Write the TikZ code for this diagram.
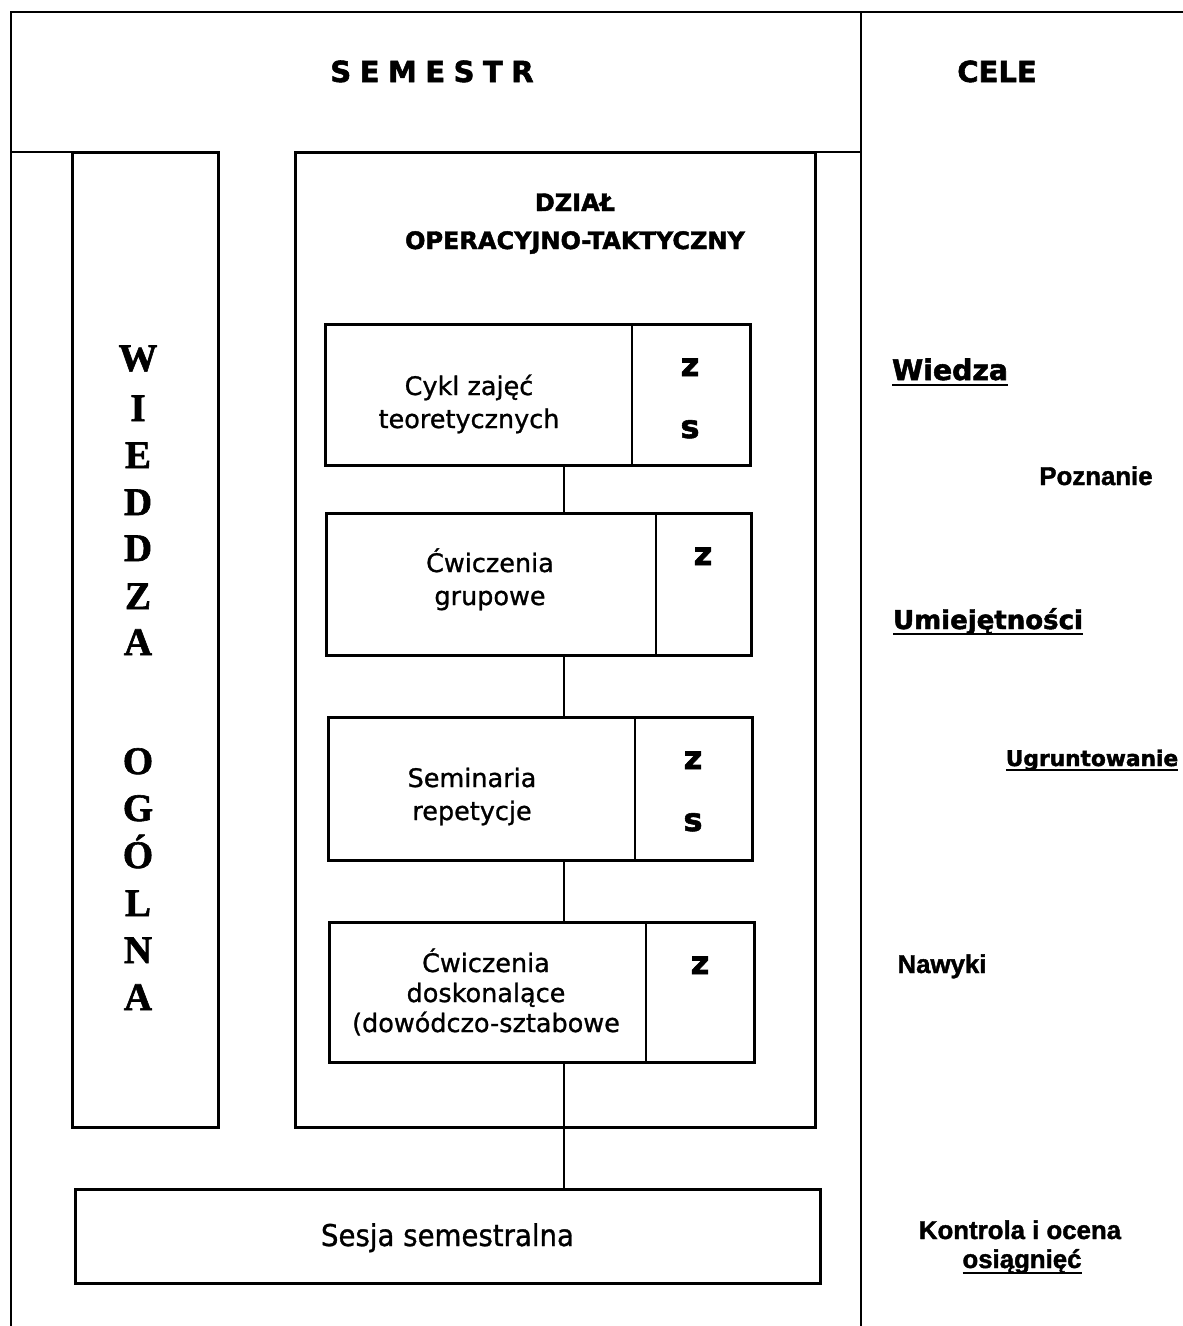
\documentclass[tikz,border=0pt]{standalone}
\usepackage{fontspec}
\setmainfont{DejaVu Sans}
\newfontfamily\boxfont{DejaVu Sans}[UprightFeatures={FakeBold=1}]
\newfontfamily\sesfont{DejaVu Sans}[FakeStretch=0.92, UprightFeatures={FakeBold=1}]
\newfontfamily\heavyfont{DejaVu Sans}[BoldFeatures={FakeBold=1.8}]
\newfontfamily\arialfont{Liberation Sans}[BoldFeatures={FakeBold=1.5}]
\newfontfamily\timesfont{Liberation Serif}[BoldFeatures={FakeBold=1.5}]
\newcommand\fs[1]{\fontsize{#1}{#1}\selectfont}

\begin{document}
\begin{tikzpicture}[x=1pt,y=-1pt,
  frame/.style={line width=2.8pt, line cap=rect},
  box/.style={draw, rectangle, line width=3pt, inner sep=0pt, outer sep=0pt},
  link/.style={line width=2.8pt},
  txt/.style={inner sep=0pt, outer sep=0pt, anchor=base},
  boxtxt/.style={txt, font=\boxfont\fs{25.5}},
  tagtxt/.style={txt, font=\heavyfont\bfseries\fs{32}},
  head/.style={txt, font=\heavyfont\bfseries\fs{24}},
  vletter/.style={txt, font=\timesfont\bfseries\fs{39}},
  goal/.style={txt, font=\arialfont\bfseries\fs{25.8}},
  uline/.style={line width=2.6pt}]

\useasboundingbox[fill=white] (0,0) rectangle (1183,1326);

% page frame and column divider
\draw[frame] (11,1326) -- (11,12) -- (1183,12);
\draw[frame] (861,12) -- (861,1326);

% headings
\node[txt, font=\heavyfont\bfseries\fs{29}] (sem) at (432,82)
  {S\kern8.5pt E\kern8.5pt M\kern8.5pt E\kern8.5pt S\kern8.5pt T\kern8.5pt R};
\node[txt, font=\heavyfont\bfseries\fs{29}] (cele) at (997,82) {CELE};

% general knowledge column and operational-tactical section
\node[box, minimum width=146pt, minimum height=975pt] (lb) at (145,639.5) {};
\node[box, minimum width=520pt, minimum height=975pt] (ib) at (555,639.5) {};
\coordinate (lw) at (11,152);
\coordinate (rw) at (861,152);
\draw[frame] (lw) -- (lb.north west);
\draw[frame] (ib.north east) -- (rw);

\foreach \ch/\yy [count=\i] in {W/371,I/421,E/468,D/515,D/561,Z/609,A/655,
                                 O/774,G/821,Ó/868,L/916,N/963,A/1010}
  \node[vletter] (v\i) at (138,\yy) {\ch};

\node[head] (dz1) at (575,211) {DZIAŁ};
\node[head] (dz2) at (575,249) {OPERACYJNO-TAKTYCZNY};

% activity boxes
\node[box, minimum width=425pt, minimum height=141pt] (b1) at (537.5,394.5) {};
\node[box, minimum width=425pt, minimum height=142pt] (b2) at (538.5,584) {};
\node[box, minimum width=424pt, minimum height=143pt] (b3) at (540,788.5) {};
\node[box, minimum width=425pt, minimum height=140pt] (b4) at (541.5,992) {};
\node[box, minimum width=745pt, minimum height=94pt] (ses) at (447.5,1236) {};

\coordinate (d1) at (632,0);
\coordinate (d2) at (656,0);
\coordinate (d3) at (635,0);
\coordinate (d4) at (646,0);
\draw[link] (b1.north -| d1) -- (b1.south -| d1);
\draw[link] (b2.north -| d2) -- (b2.south -| d2);
\draw[link] (b3.north -| d3) -- (b3.south -| d3);
\draw[link] (b4.north -| d4) -- (b4.south -| d4);

\node[boxtxt] (t11) at (469,395) {Cykl zajęć};
\node[boxtxt] (t12) at (469,428) {teoretycznych};
\node[tagtxt] (m11) at (690,376) {z};
\node[tagtxt] (m12) at (690,438) {s};

\node[boxtxt] (t21) at (490,572) {Ćwiczenia};
\node[boxtxt] (t22) at (490,605) {grupowe};
\node[tagtxt] (m21) at (703,565) {z};

\node[boxtxt] (t31) at (472,787) {Seminaria};
\node[boxtxt] (t32) at (472,820) {repetycje};
\node[tagtxt] (m31) at (693,769) {z};
\node[tagtxt] (m32) at (693,831) {s};

\node[boxtxt] (t41) at (486,972) {Ćwiczenia};
\node[boxtxt] (t42) at (486,1002) {doskonalące};
\node[boxtxt] (t43) at (486,1032) {(dowódczo-sztabowe};
\node[tagtxt] (m41) at (700,974) {z};

\node[txt, font=\sesfont\fs{30}] (st) at (447.5,1246) {Sesja semestralna};

% connectors between the stages
\coordinate (cx) at (564,0);
\draw[link] (b1.south -| cx) -- (b2.north -| cx);
\draw[link] (b2.south -| cx) -- (b3.north -| cx);
\draw[link] (b3.south -| cx) -- (b4.north -| cx);
\draw[link] (b4.south -| cx) -- (ses.north -| cx);

% goals column
\node[txt, font=\heavyfont\bfseries\fs{28.3}] (g1) at (950,380) {Wiedza};
\draw[uline] ([yshift=-5pt]g1.base west) -- ([yshift=-5pt]g1.base east);
\node[goal] (g2) at (1096,485) {Poznanie};
\node[txt, font=\heavyfont\bfseries\fs{26}] (g3) at (988,629) {Umiejętności};
\draw[uline] ([yshift=-5pt]g3.base west) -- ([yshift=-5pt]g3.base east);
\node[txt, font=\heavyfont\bfseries\fs{21.7}] (g4) at (1092,766) {Ugruntowanie};
\draw[uline, line width=2.2pt] ([yshift=-4pt]g4.base west) -- ([yshift=-4pt]g4.base east);
\node[goal] (g5) at (942,973) {Nawyki};
\node[goal] (g6) at (1020,1239) {Kontrola i ocena};
\node[goal] (g7) at (1022,1268) {osiągnięć};
\draw[uline, line width=2.2pt] ([yshift=-5pt]g7.base west) -- ([yshift=-5pt]g7.base east);
\end{tikzpicture}
\end{document}
